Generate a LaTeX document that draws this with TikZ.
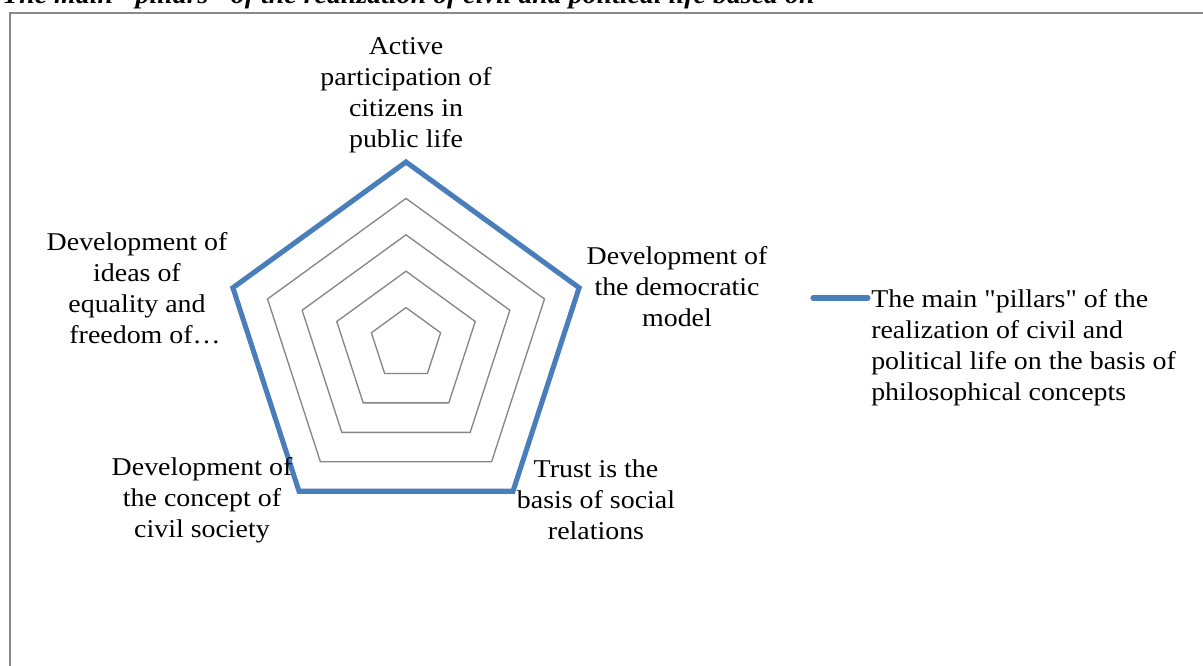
\documentclass[tikz,border=0pt]{standalone}
\usepackage{fontspec}
\setmainfont{Liberation Serif}[FakeStretch=1.09, Ligatures=TeXOff]
\definecolor{serblue}{HTML}{4A7EBB}
\definecolor{gridgray}{HTML}{868686}
\definecolor{framegray}{HTML}{8A8A8A}
\tikzset{
  lbl/.style={align=center, inner sep=0pt, font=\fontsize{19.2}{23.25}\selectfont},
  gridline/.style={draw=gridgray, line width=1pt, line join=miter},
  series/.style={draw=serblue, line width=3.8pt, line join=miter},
}
\begin{document}
\begin{tikzpicture}[x=0.75pt, y=-0.75pt]
\useasboundingbox (0,0) rectangle (1203,666);
\fill[white] (0,0) rectangle (1203,666);
% frame (extends beyond the visible area)
\draw[framegray, line width=1.2pt] (10,13) rectangle (1230,700);
% cropped title
\node[anchor=base west, inner sep=0pt, font=\fontsize{19.2}{23.25}\selectfont\bfseries\itshape] (title) at (2,4) {The main "pillars" of the realization of civil and political life based on};
% radar grid
\begin{scope}[shift={(406,344)}]
  \foreach \r in {36.4,72.8,109.2,145.6} {
    \draw[gridline] (0,-\r) -- ({0.9511*\r},{-0.309*\r}) -- ({0.5878*\r},{0.809*\r}) -- ({-0.5878*\r},{0.809*\r}) -- ({-0.9511*\r},{-0.309*\r}) -- cycle;
  }
  \coordinate (v1) at (0,-182);
  \coordinate (v2) at ({0.9511*182},{-0.309*182});
  \coordinate (v3) at ({0.5878*182},{0.809*182});
  \coordinate (v4) at ({-0.5878*182},{0.809*182});
  \coordinate (v5) at ({-0.9511*182},{-0.309*182});
  \draw[series] (v1) -- (v2) -- (v3) -- (v4) -- (v5) -- cycle;
\end{scope}
% axis labels
\node[lbl] (ltop) at (406,95) {Active\\participation of\\citizens in\\public life};
\node[lbl] (lur) at (677,287) {Development of\\the democratic\\model};
\node[lbl] (llr) at (596,500) {Trust is the\\basis of social\\relations};
\node[lbl] (lll) at (202,500) {Development of\\the concept of\\civil society};
\node[lbl] (lul) at (137,288) {Development of\\ideas of\\equality and\\\hspace*{12pt}freedom of…};
% legend
\coordinate (legA) at (813,298);
\coordinate (legB) at (868,298);
\draw[serblue, line width=3.8pt, line cap=round] (legA) -- (legB);
\node[lbl, align=left, anchor=west] (legtext) at (871,348) {The main "pillars" of the\\realization of civil and\\political life on the basis of\\philosophical concepts};
\end{tikzpicture}
\end{document}
